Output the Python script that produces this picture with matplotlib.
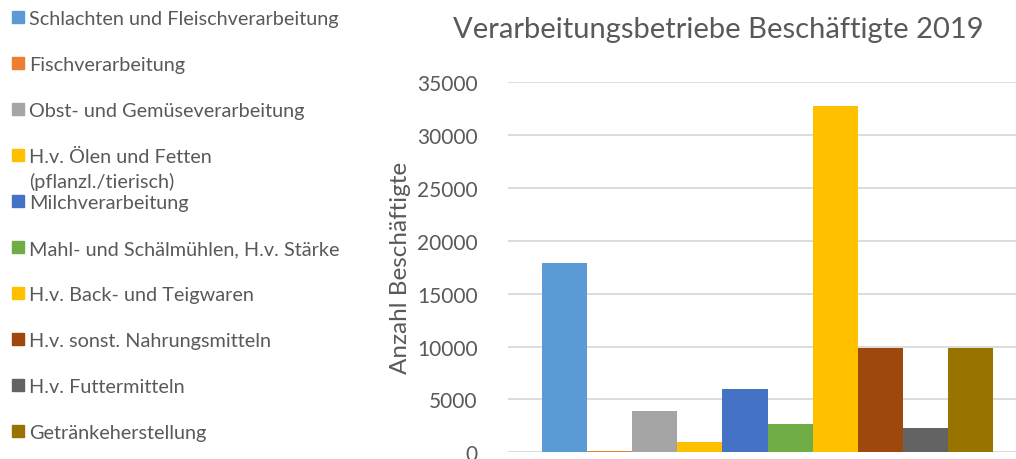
import matplotlib

matplotlib.use("Agg")
import matplotlib.pyplot as plt
from matplotlib.patches import Rectangle

# Employees per processing sector, 2019
categories = [
    "Schlachten und Fleischverarbeitung",
    "Fischverarbeitung",
    "Obst- und Gemüseverarbeitung",
    "H.v. Ölen und Fetten\n(pflanzl./tierisch)",
    "Milchverarbeitung",
    "Mahl- und Schälmühlen, H.v. Stärke",
    "H.v. Back- und Teigwaren",
    "H.v. sonst. Nahrungsmitteln",
    "H.v. Futtermitteln",
    "Getränkeherstellung",
]
employees = [17900, 150, 3900, 980, 6000, 2680, 32800, 9870, 2300, 9870]
colors = ["#5B9BD5", "#ED7D31", "#A5A5A5", "#FFC000", "#4472C4",
          "#70AD47", "#FFC000", "#9E480E", "#636363", "#997300"]
yticks = [0, 5000, 10000, 15000, 20000, 25000, 30000, 35000]

TEXT = "#595959"
W, H = 1016, 460
plt.rcParams["font.family"] = ["Lato", "DejaVu Sans"]

fig = plt.figure(figsize=(W / 100, H / 100), dpi=100)
ax = fig.add_axes([508 / W, (H - 453.3) / H, 1 - 508 / W, 370 / H])

ax.bar(range(len(employees)), employees, width=1.0, align="edge", color=colors, zorder=2)
ax.set_xlim(-0.754, 10.51)
ax.set_ylim(0, 35000)
ax.set_yticks(yticks)
ax.set_yticklabels([str(t) for t in yticks])
ax.set_xticks([])
ax.yaxis.grid(True, color="#D9D9D9", linewidth=1.3, zorder=0)
ax.tick_params(axis="y", length=0, pad=22, labelsize=15, labelcolor=TEXT)
for s in ax.spines.values():
    s.set_visible(False)
ax.set_ylabel("Anzahl Beschäftigte", fontsize=17.5, color=TEXT, labelpad=4)

fig.text(718 / W, 1 - 30 / H, "Verarbeitungsbetriebe Beschäftigte 2019",
         ha="center", va="center", fontsize=21, color=TEXT)

# legend drawn by hand: fixed row spacing, wrapped label overflows like the original
for i, (lab, col) in enumerate(zip(categories, colors)):
    yc = 18 + i * 46
    fig.patches.append(Rectangle((12 / W, 1 - (yc + 6) / H), 12 / W, 12 / H,
                                 transform=fig.transFigure, color=col))
    fig.text(29 / W, 1 - (yc - 7) / H, lab, ha="left", va="top",
             fontsize=14.3, color=TEXT, linespacing=1.45)

fig.savefig("out.png", dpi=100)
